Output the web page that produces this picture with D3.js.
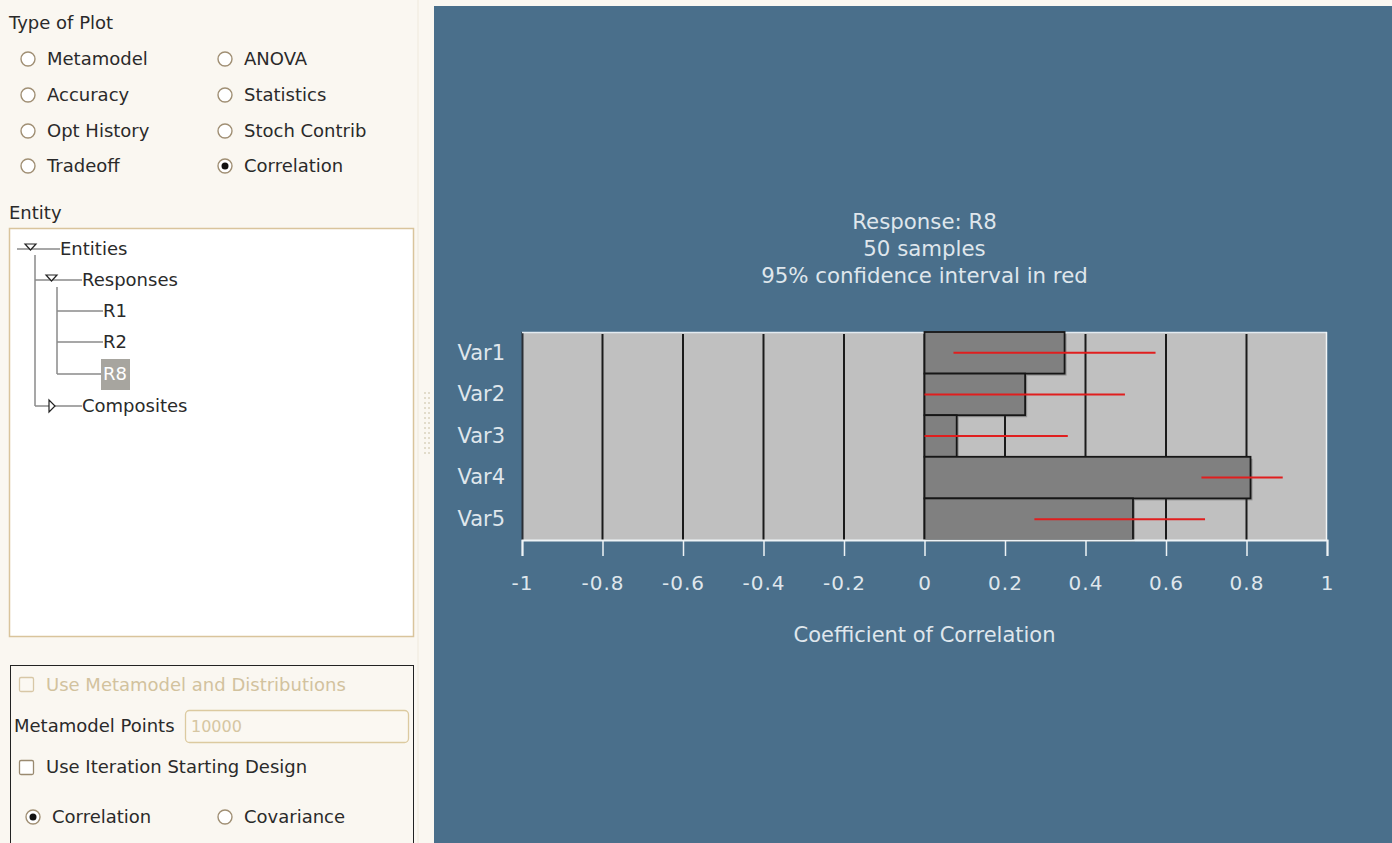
<!DOCTYPE html>
<html><head><meta charset="utf-8">
<script src="https://cdn.jsdelivr.net/npm/d3@7"></script>
<style>
html,body{margin:0;padding:0;background:#fbf8f2;}
svg{display:block;font-family:"DejaVu Sans",sans-serif;}
</style></head>
<body>
<svg id="c" width="1392" height="843"></svg>
<script>
// ---- data ----
const categories = ["Var1","Var2","Var3","Var4","Var5"];
const corrValues = [0.348, 0.25, 0.08, 0.81, 0.518];
const ciLow = [0.072, 0.0, 0.0, 0.688, 0.273];
const ciHigh = [0.574, 0.498, 0.356, 0.89, 0.697];
const tickValues = [-1,-0.8,-0.6,-0.4,-0.2,0,0.2,0.4,0.6,0.8,1];
const titleLines = ["Response: R8","50 samples","95% confidence interval in red"];
const xTitle = "Coefficient of Correlation";
const plotTypes = [["Metamodel","ANOVA"],["Accuracy","Statistics"],["Opt History","Stoch Contrib"],["Tradeoff","Correlation"]];
const selectedPlot = "Correlation";

(function(){
const svg = d3.select("#c");
const FS = 18;

// ---- left panel ----
svg.append("rect").attr("x",0).attr("y",0).attr("width",1392).attr("height",843).attr("fill","#faf7f1");
const LT = "#2a2a2a";
svg.append("text").attr("x",9).attr("y",29).attr("font-size",FS).attr("fill",LT).text("Type of Plot");
function radio(g,cx,cy,sel){
  g.append("circle").attr("cx",cx).attr("cy",cy).attr("r",7).attr("fill","#fff").attr("stroke","#a08f74").attr("stroke-width",1.4);
  if(sel) g.append("circle").attr("cx",cx).attr("cy",cy).attr("r",3.5).attr("fill","#111");
}
const rowY = [59,95,131,166];
plotTypes.forEach((row,i)=>{
  row.forEach((lab,j)=>{
    const cx = j===0?28:225;
    radio(svg,cx,rowY[i],lab===selectedPlot);
    svg.append("text").attr("x",cx+19).attr("y",rowY[i]+6).attr("font-size",FS).attr("fill",LT).text(lab);
  });
});
svg.append("text").attr("x",9).attr("y",219).attr("font-size",FS).attr("fill",LT).text("Entity");
svg.append("rect").attr("x",9.5).attr("y",228.5).attr("width",404).attr("height",408).attr("fill","#fff").attr("stroke","#d9c49c").attr("stroke-width",1.5);
const TL="#8a8a8a";
const tree = svg.append("g").attr("stroke",TL).attr("stroke-width",1.5).attr("fill","none");
tree.append("line").attr("x1",17).attr("x2",60).attr("y1",249).attr("y2",249);
tree.append("line").attr("x1",35).attr("x2",35).attr("y1",255).attr("y2",406);
tree.append("line").attr("x1",35).attr("x2",82).attr("y1",280).attr("y2",280);
tree.append("line").attr("x1",57).attr("x2",57).attr("y1",287).attr("y2",374);
[311,342,374].forEach(yy=>tree.append("line").attr("x1",57).attr("x2",103).attr("y1",yy).attr("y2",yy));
tree.append("line").attr("x1",35).attr("x2",82).attr("y1",406).attr("y2",406);
svg.append("path").attr("d","M25,244 L36,244 L30.5,250 Z").attr("fill","#fff").attr("stroke","#222").attr("stroke-width",1.2);
svg.append("path").attr("d","M46,275 L57,275 L51.5,281 Z").attr("fill","#fff").attr("stroke","#222").attr("stroke-width",1.2);
svg.append("path").attr("d","M49,400 L49,412 L55,406 Z").attr("fill","#fff").attr("stroke","#222").attr("stroke-width",1.2);
svg.append("rect").attr("x",101).attr("y",359).attr("width",29).attr("height",31).attr("fill","#a7a59f");
const treeText=[["Entities",60,249,LT],["Responses",82,280,LT],["R1",103,311,LT],["R2",103,342,LT],["R8",103,374,"#fff"],["Composites",82,406,LT]];
treeText.forEach(t=>svg.append("text").attr("x",t[1]).attr("y",t[2]+6).attr("font-size",FS).attr("fill",t[3]).text(t[0]));
// bottom box
svg.append("rect").attr("x",10.5).attr("y",665.5).attr("width",403).attr("height",200).attr("fill","none").attr("stroke","#222").attr("stroke-width",1);
svg.append("rect").attr("x",19.5).attr("y",677.5).attr("width",14).attr("height",14).attr("rx",1.5).attr("fill","#fbf8f2").attr("stroke","#d8c7a6").attr("stroke-width",1.3);
svg.append("text").attr("x",46).attr("y",691).attr("font-size",FS).attr("fill","#d2c29e").text("Use Metamodel and Distributions");
svg.append("text").attr("x",14).attr("y",732).attr("font-size",FS).attr("fill",LT).text("Metamodel Points");
svg.append("rect").attr("x",185.5).attr("y",710.5).attr("width",223).attr("height",32).attr("rx",4).attr("fill","#fbf8f2").attr("stroke","#dccaa0").attr("stroke-width",1.3);
svg.append("text").attr("x",191).attr("y",732).attr("font-size",16).attr("fill","#d6c6a2").text("10000");
svg.append("rect").attr("x",19.5).attr("y",760.5).attr("width",14).attr("height",14).attr("rx",1.5).attr("fill","#fff").attr("stroke","#9a8a70").attr("stroke-width",1.3);
svg.append("text").attr("x",46).attr("y",773).attr("font-size",FS).attr("fill",LT).text("Use Iteration Starting Design");
radio(svg,33,817,true);
svg.append("text").attr("x",52).attr("y",823).attr("font-size",FS).attr("fill",LT).text("Correlation");
radio(svg,225,817,false);
svg.append("text").attr("x",244).attr("y",823).attr("font-size",FS).attr("fill",LT).text("Covariance");
for(let i=0;i<13;i++){ [424,428].forEach(xx=>svg.append("rect").attr("x",xx).attr("y",392+i*5).attr("width",2).attr("height",2).attr("fill","#e2dccb")); }
svg.append("line").attr("x1",418).attr("x2",418).attr("y1",0).attr("y2",843).attr("stroke","#efe9dc").attr("stroke-width",1);

// ---- chart panel ----
const BG="#4a6f8b", TXT="#dfe6ec";
svg.append("rect").attr("x",434).attr("y",6).attr("width",958).attr("height",837).attr("fill",BG);
const pLeft=522, pRight=1327, pTop=332, pBottom=540;
const x = d3.scaleLinear().domain([-1,1]).range([pLeft,pRight]);
const y = d3.scaleBand().domain(categories).range([pTop,pBottom]).padding(0);

const ch = svg.append("g");
ch.append("rect").attr("x",pLeft).attr("y",pTop).attr("width",pRight-pLeft).attr("height",pBottom-pTop).attr("fill","#c0c0c0");
ch.selectAll("line.grid").data(tickValues.filter(v=>v>-1&&v<1)).join("line")
  .attr("x1",d=>x(d)).attr("x2",d=>x(d)).attr("y1",pTop+2).attr("y2",pBottom)
  .attr("stroke","#1a1a1a").attr("stroke-width",2);
ch.append("line").attr("x1",pLeft+0.5).attr("x2",pLeft+0.5).attr("y1",pTop).attr("y2",pBottom).attr("stroke","#2a2f35").attr("stroke-width",2);
ch.append("line").attr("x1",pLeft).attr("x2",pRight).attr("y1",pTop+0.5).attr("y2",pTop+0.5).attr("stroke","#e3ebf1").attr("stroke-width",1.5);
ch.append("line").attr("x1",pRight-0.5).attr("x2",pRight-0.5).attr("y1",pTop).attr("y2",pBottom).attr("stroke","#f2f5f7").attr("stroke-width",1.5);
ch.selectAll("rect.sh").data(categories).join("rect")
  .attr("x",(d,i)=>Math.min(x(0),x(corrValues[i]))+2).attr("y",d=>y(d)+2)
  .attr("width",(d,i)=>Math.abs(x(corrValues[i])-x(0))).attr("height",y.bandwidth())
  .attr("fill","rgba(60,60,60,0.35)");
ch.selectAll("rect.bar").data(categories).join("rect")
  .attr("x",(d,i)=>Math.min(x(0),x(corrValues[i]))).attr("y",d=>y(d))
  .attr("width",(d,i)=>Math.abs(x(corrValues[i])-x(0))).attr("height",y.bandwidth())
  .attr("fill","#808080").attr("stroke","#161616").attr("stroke-width",1.8);
ch.selectAll("line.ci").data(categories).join("line")
  .attr("x1",(d,i)=>x(ciLow[i])).attr("x2",(d,i)=>x(ciHigh[i]))
  .attr("y1",d=>y(d)+y.bandwidth()/2).attr("y2",d=>y(d)+y.bandwidth()/2)
  .attr("stroke","#e01e1e").attr("stroke-width",2);
const xAxis = d3.axisBottom(x).tickValues(tickValues).tickSize(16).tickPadding(20).tickFormat(d=>String(+d.toFixed(1)));
const ax = ch.append("g").attr("transform",`translate(0,${pBottom})`).call(xAxis);
ax.select(".domain").attr("stroke","#eef3f6").attr("stroke-width",2);
ax.selectAll(".tick line").attr("stroke","#eef3f6").attr("stroke-width",1.5);
ax.selectAll(".tick text").attr("fill",TXT).attr("font-size",20).attr("font-family","DejaVu Sans").style("letter-spacing","1px");
const yAxis = d3.axisLeft(y).tickSize(0).tickPadding(17);
const ay = ch.append("g").attr("transform",`translate(${pLeft},0)`).call(yAxis);
ay.select(".domain").remove();
ay.selectAll(".tick text").attr("fill",TXT).attr("font-size",21).attr("font-family","DejaVu Sans");
titleLines.forEach((t,i)=>ch.append("text").attr("x",x(0)).attr("y",229+i*27).attr("text-anchor","middle").attr("font-size",21.3).attr("fill",TXT).text(t));
ch.append("text").attr("x",x(0)).attr("y",642).attr("text-anchor","middle").attr("font-size",21).attr("fill",TXT).text(xTitle);
})();
</script>
</body></html>
